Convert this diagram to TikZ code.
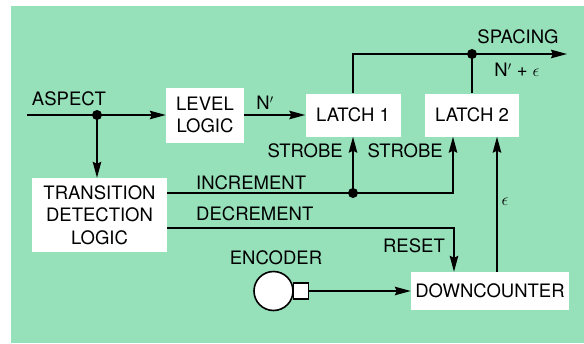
\documentclass[tikz,border=0pt]{standalone}
\usepackage{fontspec}
\setmainfont{TeX Gyre Heros}
\usetikzlibrary{positioning, arrows.meta, calc}
\definecolor{panelgreen}{RGB}{150,224,186}

\begin{document}
\begin{tikzpicture}[x=1pt, y=-1pt, font=\fontsize{18.5}{22.5}\selectfont]
% Define styles
\tikzstyle{block} = [rectangle, fill=white, inner sep=0pt, text centered, align=center]
\tikzstyle{arrow} = [line width=1.7pt, -{Stealth[length=16pt, width=8.5pt, inset=2pt]}]
\tikzstyle{line} = [line width=1.7pt]
\tikzstyle{dot} = [circle, fill=black, inner sep=0pt, minimum size=10pt]
\tikzstyle{tag} = [inner sep=0pt]

% Panel
\useasboundingbox (0,0) rectangle (584,343);
\fill[panelgreen] (11,6) rectangle (584,343);

% Blocks
\node (level) [block, minimum width=78pt, minimum height=55pt] at (205,115) {LEVEL\\LOGIC};
\node (latch1) [block, minimum width=95pt, minimum height=43pt] at (353,115) {LATCH 1};
\node (latch2) [block, minimum width=94pt, minimum height=43pt] at (472,115) {LATCH 2};
\node (trans) [block, minimum width=135pt, minimum height=74pt] at (99.5,215) {TRANSITION\\DETECTION\\LOGIC};
\node (down) [block, minimum width=158pt, minimum height=38pt] at (490,291) {DOWNCOUNTER};

% Encoder
\node (enc) [circle, draw, line width=1.6pt, fill=white, minimum size=39pt, inner sep=0pt] at (273.5,291) {};
\node (shaft) [rectangle, draw, line width=1.4pt, fill=white, minimum width=15pt, minimum height=16pt, inner sep=0pt, anchor=west] at ([xshift=-1pt]enc.east) {};

% Junctions
\coordinate (in) at (27,115);
\coordinate (split) at (97,115);
\coordinate (out) at (567,54);
\coordinate (merge) at (472,54);
\coordinate (incdot) at (353,193);
\coordinate (decturn) at (454,228);

% Main flow arrows
\draw [arrow] (in) -- (level);
\draw [arrow] (split) -- (split |- trans.north);
\draw [arrow] (level) -- (latch1);
\draw [arrow] (latch1.north) |- (out);
\draw [line] (latch2.north) -- (merge);

% Control lines
\draw [arrow] (trans.east |- incdot) -| ([xshift=-19pt]latch2.south);
\draw [arrow] (incdot) -- (latch1.south);
\draw [arrow] (trans.east |- decturn) -| ([xshift=-36pt]down.north);
\draw [arrow] ([xshift=7pt]down.north) -- ([xshift=25pt]latch2.south);
\draw [arrow] (shaft) -- (down);

% Dots
\node (splitdot) [dot] at (split) {};
\node (mergedot) [dot] at (merge) {};
\node (incrdot) [dot] at (incdot) {};

% Signal names
\node (aspect) [tag] at (69,99) {ASPECT};
\node (nprime) [tag] at (265,103) {N$'$};
\node (spacing) [tag] at (518,37) {SPACING};
\node (sum) [tag] at (517,70) {N$'$ + $\epsilon$};
\node (strobe1) [tag, anchor=east] at (343,151) {STROBE};
\node (strobe2) [tag, anchor=east] at (443,151) {STROBE};
\node (incr) [tag, anchor=west] at (196,183) {INCREMENT};
\node (decr) [tag, anchor=west] at (196,214) {DECREMENT};
\node (reset) [tag, anchor=east] at (445,246) {RESET};
\node (eps) [tag] at (505,202) {$\epsilon$};
\node (enclabel) [tag] at (276,258) {ENCODER};

\end{tikzpicture}
\end{document}
